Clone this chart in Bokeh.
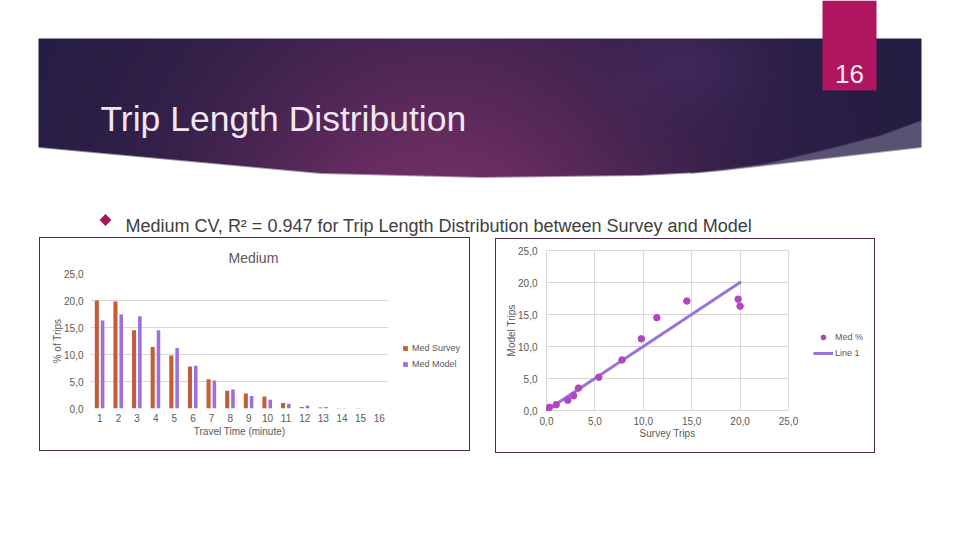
import numpy as np
from bokeh.plotting import figure
from bokeh.layouts import column, row
from bokeh.models import Range1d, FixedTicker, Legend, LegendItem, Spacer, ColumnDataSource
from bokeh.transform import dodge
from bokeh.embed import file_html
from bokeh.resources import INLINE
from bokeh.core.properties import value

# ---------------- data ----------------
travel_time = [1, 2, 3, 4, 5, 6, 7, 8, 9, 10, 11, 12, 13, 14, 15, 16]
survey_pct = [20.0, 19.8, 14.5, 11.4, 9.8, 7.8, 5.4, 3.3, 2.8, 2.2, 1.0, 0.3, 0.2, 0.1, 0.1, 0.0]
model_pct = [16.3, 17.4, 17.1, 14.5, 11.2, 7.9, 5.2, 3.5, 2.3, 1.6, 0.9, 0.5, 0.3, 0.1, 0.0, 0.0]
pct_ticks = [0, 5, 10, 15, 20, 25]
pct_tick_labels = ["0,0", "5,0", "10,0", "15,0", "20,0", "25,0"]
fit_x = [0.0, 20.1]
fit_y = [0.0, 20.1]

slide_title = "Trip Length Distribution"
slide_number = "16"
bullet_text = "Medium CV, R\u00b2 = 0.947 for Trip Length Distribution between Survey and Model"

FONT = "Liberation Sans"
GREY = "#595959"
GRID = "#d9d9d9"
SURVEY_COLOR = "#c55d3b"
MODEL_COLOR = "#9d6fdc"
POINT_COLOR = "#b346c0"
LINE_COLOR = "#9b74d8"
BOX_LINE = {"background-color": "#4e2747"}

# ---------------- header (slide decoration) ----------------
HDR_H = 237
hdr = figure(width=944, height=HDR_H, x_range=Range1d(0, 944), y_range=Range1d(-HDR_H, 0),
             output_backend="svg", toolbar_location=None, min_border=0,
             x_axis_location=None, y_axis_location=None)
hdr.grid.visible = False
hdr.outline_line_color = None
hdr.background_fill_color = "white"
hdr.border_fill_color = "white"

H, Wd = 142, 883
px = 38 + np.arange(Wd) + 0.5
py = 180 - (np.arange(H) + 0.5)
PX, PY = np.meshgrid(px, py)
edge_x = [38, 320, 480, 640, 700, 767, 830, 880, 921]
edge_y = [147, 173, 177, 175, 172, 163, 148, 135, 120]
sw_x = [690, 723, 800, 860, 921]
sw_y = [173, 170, 161, 154, 147]
dark_b = np.interp(px, edge_x, edge_y)
sw_b = np.maximum(dark_b, np.interp(px, sw_x, sw_y, left=0.0))
dark_a = np.clip(dark_b[None, :] - PY + 0.5, 0, 1)
sw_a = np.clip(sw_b[None, :] - PY + 0.5, 0, 1)

wx = np.exp(-((PX - 440) / 240.0) ** 2)
wy = 0.5 + 0.5 * np.clip((PY - 38) / 140.0, 0, 1)
w = (wx * wy)[..., None]
navy = np.array([37, 29, 67], dtype=float)
mag = np.array([112, 46, 100], dtype=float)
col = navy + (mag - navy) * w
g = (0.4 * np.exp(-(((PX - 690) / 75.0) ** 2 + ((PY - 65) / 50.0) ** 2)))[..., None]
col = col * (1 - g) + np.array([78, 48, 112], dtype=float) * g
gray = np.array([90, 82, 115], dtype=float)
col = col * dark_a[..., None] + gray * (1 - dark_a[..., None])

img = np.empty((H, Wd), dtype=np.uint32)
view = img.view(dtype=np.uint8).reshape((H, Wd, 4))
view[..., 0] = col[..., 0].astype(np.uint8)
view[..., 1] = col[..., 1].astype(np.uint8)
view[..., 2] = col[..., 2].astype(np.uint8)
view[..., 3] = (sw_a * 255).astype(np.uint8)
hdr.image_rgba(image=[img], x=38, y=-180, dw=Wd, dh=H)

hdr.quad(left=[822], right=[876], top=[0], bottom=[-90], fill_color="#b0155f", line_color=None)
hdr.text(x=[849], y=[-73], text=[slide_number], text_font=value(FONT), text_font_size="26px",
         text_color="#f7e8f1", text_align="center", text_baseline="alphabetic")
hdr.text(x=[100], y=[-118], text=[slide_title], text_font=value(FONT), text_font_size="35.5px",
         text_color="#f3e6f3", text_align="left", text_baseline="alphabetic")
hdr.scatter(x=[105], y=[-219.5], marker="square", angle=np.pi / 4, size=8.5,
            fill_color="#a3185a", line_color=None)
hdr.text(x=[125], y=[-225], text=[bullet_text], text_font=value(FONT), text_font_size="18px",
         text_color="#404040", text_align="left", text_baseline="alphabetic")


def style_axes(p):
    for ax in (p.xaxis, p.yaxis):
        ax.axis_line_color = None
        ax.major_tick_line_color = None
        ax.minor_tick_line_color = None
        ax.major_tick_out = 0
        ax.major_tick_in = 0
        ax.major_label_text_font = FONT
        ax.major_label_text_font_size = "10px"
        ax.major_label_text_color = GREY
        ax.axis_label_text_font = FONT
        ax.axis_label_text_font_size = "10px"
        ax.axis_label_text_font_style = "normal"
        ax.axis_label_text_color = GREY


def legend_panel(width, height):
    f = figure(width=width, height=height, x_range=Range1d(-2, -1), y_range=Range1d(-2, -1),
               output_backend="svg", toolbar_location=None, min_border=0, frame_align=False,
               x_axis_location=None, y_axis_location=None)
    f.grid.visible = False
    f.outline_line_color = None
    return f


def make_legend(items, loc, gw, gh, standoff):
    return Legend(items=items, location=loc, padding=0, margin=0, spacing=4,
                  glyph_width=gw, glyph_height=gh, label_height=12, label_standoff=standoff,
                  label_text_font=FONT, label_text_font_size="9px", label_text_color=GREY,
                  border_line_color=None, background_fill_alpha=0)


def boxed(children, width, height):
    inner = row(Spacer(width=1, height=height - 2, styles=BOX_LINE), *children,
                Spacer(width=1, height=height - 2, styles=BOX_LINE))
    return column(Spacer(width=width, height=1, styles=BOX_LINE), inner,
                  Spacer(width=width, height=1, styles=BOX_LINE))


# ---------------- left chart: bars ----------------
left = figure(width=354, height=212, x_range=Range1d(0.5, 16.5), y_range=Range1d(0, 25),
              output_backend="svg", toolbar_location=None, frame_align=False,
              min_border_left=50, min_border_right=6, min_border_top=35, min_border_bottom=42)
left.outline_line_color = None
src = ColumnDataSource(dict(t=travel_time, s=survey_pct, m=model_pct))
left.vbar(x=dodge("t", -0.16), top="s", width=0.22, bottom=0, source=src,
          fill_color=SURVEY_COLOR, line_color=None)
left.vbar(x=dodge("t", 0.15), top="m", width=0.19, bottom=0, source=src,
          fill_color=MODEL_COLOR, line_color=None)
left.xaxis.ticker = FixedTicker(ticks=travel_time)
left.yaxis.ticker = FixedTicker(ticks=pct_ticks)
left.yaxis.major_label_overrides = dict(zip(pct_ticks, pct_tick_labels))
left.xaxis.axis_label = "Travel Time (minute)"
left.yaxis.axis_label = "% of Trips"
style_axes(left)
left.yaxis.major_label_standoff = 7
left.yaxis.axis_label_standoff = -2
left.xaxis.major_label_standoff = 5
left.xaxis.axis_label_standoff = 1
left.xgrid.visible = False
left.ygrid.grid_line_color = GRID
left.ygrid.ticker = FixedTicker(ticks=pct_ticks)
left.title.text = "Medium"
left.title.align = "left"
left.title.offset = 138
left.title.standoff = 16
left.title.text_font = FONT
left.title.text_font_size = "14px"
left.title.text_font_style = "normal"
left.title.text_color = GREY

legL = legend_panel(75, 212)
ls = legL.vbar(x="t", top="s", width=0.22, bottom=0, source=src, fill_color=SURVEY_COLOR, line_color=None)
lm = legL.vbar(x="t", top="m", width=0.19, bottom=0, source=src, fill_color=MODEL_COLOR, line_color=None)
legL.add_layout(make_legend([LegendItem(label="Med Survey", renderers=[ls]),
                             LegendItem(label="Med Model", renderers=[lm])],
                            (8, 80), 6, 6, 4))

# ---------------- right chart: scatter ----------------
right = figure(width=309, height=213, x_range=Range1d(0, 25), y_range=Range1d(0, 25),
               output_backend="svg", toolbar_location=None, frame_align=False,
               min_border_left=50, min_border_right=17, min_border_top=11, min_border_bottom=42)
right.outline_line_color = GRID
right.line(fit_x, fit_y, line_width=3, line_color=LINE_COLOR)
right.scatter(survey_pct, model_pct, size=6.5, fill_color=POINT_COLOR, line_color=POINT_COLOR)
for ax in (right.xaxis, right.yaxis):
    ax.ticker = FixedTicker(ticks=pct_ticks)
    ax.major_label_overrides = dict(zip(pct_ticks, pct_tick_labels))
right.xgrid.ticker = FixedTicker(ticks=pct_ticks)
right.ygrid.ticker = FixedTicker(ticks=pct_ticks)
right.xaxis.axis_label = "Survey Trips"
right.yaxis.axis_label = "Model Trips"
style_axes(right)
right.yaxis.major_label_standoff = 9
right.yaxis.axis_label_standoff = -2
right.xaxis.major_label_standoff = 6
right.xaxis.axis_label_standoff = 0
right.grid.grid_line_color = GRID

legR = legend_panel(69, 213)
lr_line = legR.line(fit_x, fit_y, line_width=3, line_color=LINE_COLOR)
lr_pts = legR.scatter(survey_pct, model_pct, size=6.5, fill_color=POINT_COLOR, line_color=POINT_COLOR)
legR.add_layout(make_legend([LegendItem(label="Med %", renderers=[lr_pts]),
                             LegendItem(label="Line 1", renderers=[lr_line])],
                            (8, 93), 20, 12, 2))

left_box = boxed([left, legL], 431, 214)
right_box = boxed([right, legR], 380, 215)
charts = row(Spacer(width=39, height=215), left_box, Spacer(width=25, height=215),
             column(Spacer(width=380, height=1), right_box))
page = column(hdr, charts)

open("out.html", "w").write(file_html(page, INLINE))
